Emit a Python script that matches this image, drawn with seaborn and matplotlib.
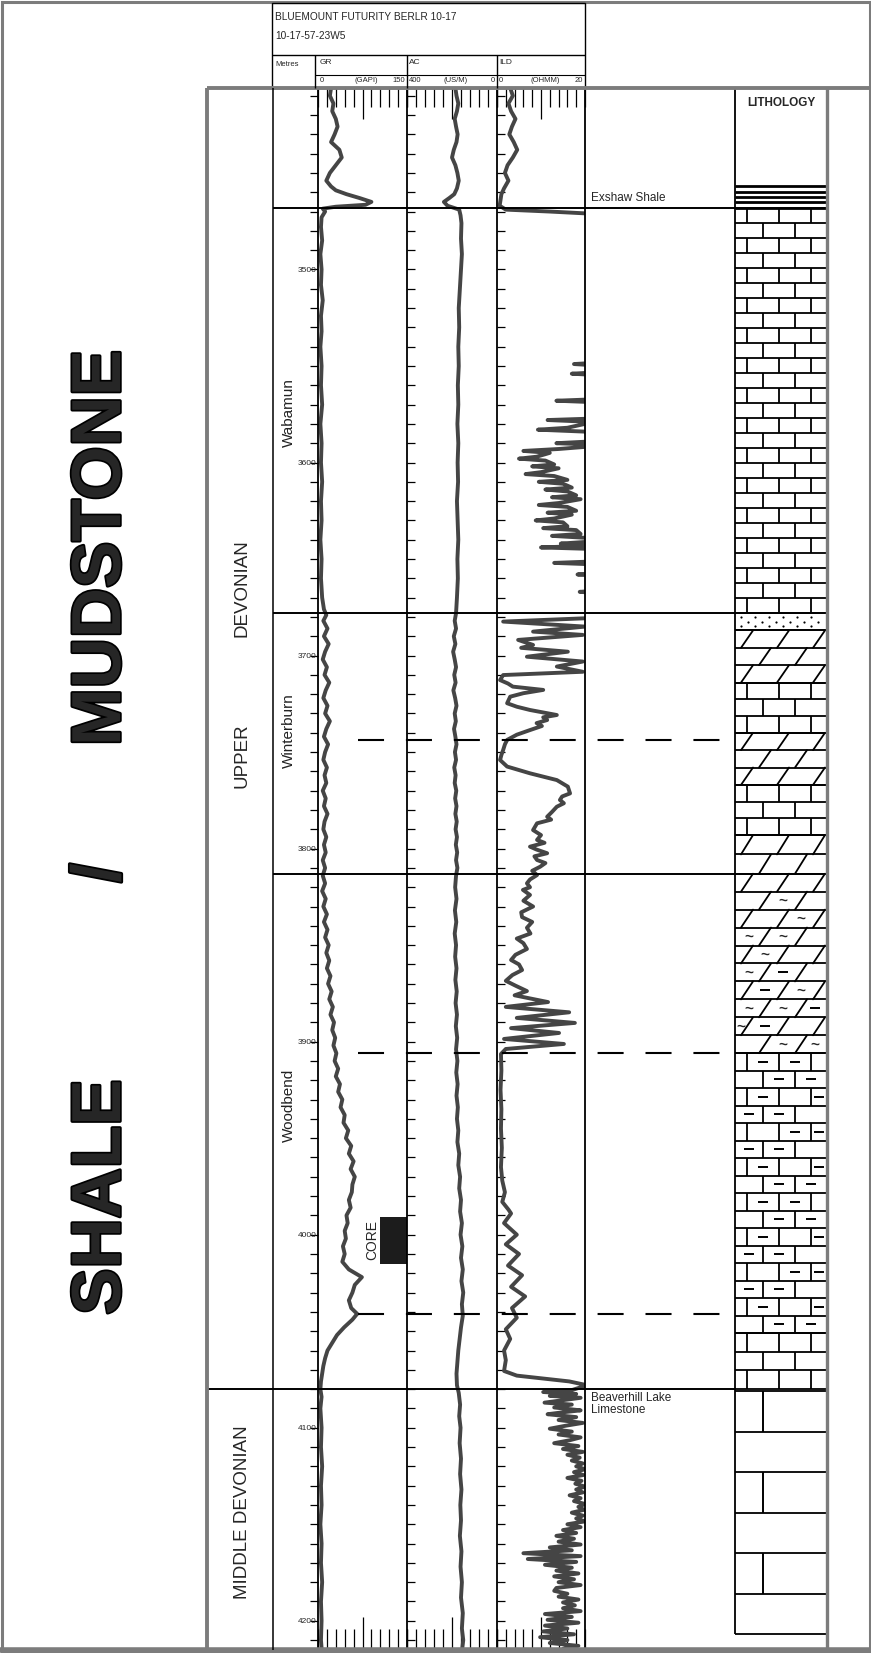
import numpy as np
import pandas as pd
import seaborn as sns
import matplotlib.pyplot as plt
from matplotlib.patches import Rectangle
from matplotlib.ticker import MultipleLocator, FixedLocator, FormatStrFormatter
from matplotlib import patheffects

sns.set_style("white")
plt.rcParams["font.family"] = ["Liberation Sans", "DejaVu Sans"]

# %% well data (depths in metres)
well_name = "BLUEMOUNT FUTURITY BERLR 10-17"
well_loc = "10-17-57-23W5"

formation_names = ["Wabamun", "Winterburn", "Woodbend"]
formation_mid = [3574, 3739, 3933]
formation_tops = [3468, 3678, 3813, 4080]  # Wabamun, Winterburn, Woodbend, Beaverhill Lake
marker_depths = [3744, 3906, 4041]
core_top, core_base = 3991, 4015

gr_depth = [3406, 3410, 3414, 3418, 3422, 3426, 3430, 3434, 3438, 3442, 3446, 3450, 3454, 3457, 3459,
            3461, 3463, 3465, 3466.5, 3467.5, 3468.5,
            3470, 3473, 3478, 3485, 3492, 3500, 3508, 3516, 3524, 3532, 3540, 3550, 3560, 3570, 3580,
            3590, 3600, 3610, 3620, 3630, 3640, 3650, 3660, 3670, 3676,
            3679, 3682, 3686, 3690, 3694, 3698, 3702, 3706, 3710, 3714, 3718, 3722, 3726, 3730, 3734,
            3738, 3742, 3746, 3750, 3754, 3758, 3762, 3766, 3770, 3774, 3778, 3782, 3786, 3790, 3794,
            3798, 3802, 3806, 3810,
            3814, 3818, 3822, 3826, 3830, 3834, 3838, 3842, 3846, 3850, 3854, 3858, 3862, 3866, 3870,
            3874, 3878, 3882, 3886, 3890, 3894, 3898, 3902, 3906, 3910, 3914, 3918, 3922, 3926, 3930,
            3934, 3938, 3942, 3946, 3950, 3954, 3958, 3962, 3966, 3970, 3974, 3978, 3982, 3986, 3990,
            3994, 3998, 4002, 4006, 4010, 4014, 4018, 4022, 4026, 4030, 4034, 4038, 4041, 4044, 4048,
            4052, 4056, 4060, 4064, 4068, 4072, 4076, 4080,
            4084, 4090, 4100, 4110, 4120, 4130, 4140, 4150, 4160, 4170, 4180, 4190, 4200, 4210, 4214]
gr_api = [22, 20, 26, 24, 30, 33, 28, 22, 36, 40, 30, 20, 14, 22, 30,
          48, 70, 90, 80, 30, 8,
          12, 6, 5, 7, 4, 6, 5, 8, 5, 6, 4, 6, 5, 7, 4,
          6, 5, 7, 5, 6, 4, 6, 5, 7, 10,
          14, 9, 16, 10, 18, 12, 8, 15, 11, 19, 13, 9, 16, 12, 20,
          14, 10, 17, 12, 9, 15, 11, 14, 8, 13, 10, 16, 11, 9, 14,
          10, 13, 8, 12,
          8, 12, 7, 13, 9, 15, 10, 16, 12, 18, 14, 19, 15, 21, 17,
          23, 19, 25, 21, 27, 24, 29, 26, 31, 28, 34, 30, 37, 34, 41,
          38, 45, 43, 51, 47, 56, 52, 60, 55, 62, 58, 57, 52, 55, 48,
          50, 45, 47, 42, 45, 41, 52, 74, 62, 58, 52, 56, 66, 58, 44,
          32, 24, 16, 12, 9, 7, 5, 4,
          6, 4, 6, 5, 7, 5, 6, 4, 6, 5, 7, 5, 6, 5, 6]

ac_depth = [3406, 3410, 3414, 3418, 3422, 3426, 3430, 3434, 3438, 3442, 3446, 3450, 3454, 3458, 3461,
            3463, 3465, 3467, 3469,
            3472, 3476, 3484, 3492, 3500, 3510, 3520, 3530, 3540, 3550, 3560, 3570, 3580, 3590, 3600,
            3610, 3620, 3630, 3640, 3650, 3660, 3670, 3678,
            3682, 3686, 3690, 3694, 3698, 3702, 3706, 3710, 3714, 3718, 3722, 3726, 3730, 3734, 3738,
            3742, 3746, 3750, 3754, 3758, 3762, 3766, 3770, 3774, 3778, 3782, 3786, 3790, 3794, 3798,
            3802, 3806, 3810,
            3814, 3820, 3826, 3832, 3838, 3844, 3850, 3856, 3862, 3868, 3874, 3880, 3886, 3892, 3898,
            3904, 3910, 3916, 3922, 3928, 3934, 3940, 3946, 3952, 3958, 3964, 3970, 3976, 3982, 3988,
            3994, 4000, 4006, 4012, 4018, 4024, 4030, 4036, 4042, 4048, 4054, 4060, 4066, 4072, 4078,
            4082, 4088, 4094, 4100, 4108, 4116, 4124, 4132, 4140, 4148, 4156, 4164, 4172, 4180, 4188,
            4196, 4204, 4210, 4214]
ac_usm = [185, 180, 172, 178, 188, 182, 175, 180, 192, 200, 185, 176, 170, 178, 190,
          212, 236, 220, 168,
          162, 158, 160, 156, 160, 165, 170, 168, 172, 170, 174, 172, 176, 172, 175,
          173, 178, 175, 172, 176, 174, 178, 182,
          188, 182, 192, 185, 195, 188, 182, 190, 184, 194, 186, 180, 188, 183, 191,
          185, 180, 187, 182, 190, 184, 188, 181, 186, 180, 185, 179, 184, 178, 183,
          177, 182, 176,
          182, 186, 180, 187, 181, 188, 182, 186, 180, 185, 179, 184, 178, 183, 177,
          182, 176, 181, 175, 180, 174, 178, 172, 176, 168, 172, 164, 168, 160, 164,
          156, 162, 154, 160, 152, 158, 150, 156, 152, 160, 166, 172, 176, 180, 178,
          170, 164, 168, 162, 166, 160, 164, 158, 163, 160, 165, 158, 162, 156, 160,
          152, 156, 150, 154]

ild_depth = [3406, 3410, 3414, 3418, 3422, 3426, 3430, 3434, 3438, 3442, 3446, 3450, 3454, 3458, 3461,
             3464, 3467, 3469, 3470, 3471, 3472,
             3548, 3549, 3550, 3553, 3554, 3555, 3567, 3568, 3569, 3577, 3578, 3579, 3582, 3583,
             3584, 3589, 3590, 3591, 3593, 3594, 3595, 3597, 3598, 3599, 3601, 3602, 3603, 3605,
             3606, 3607, 3609, 3610, 3611, 3613, 3614, 3615, 3617, 3618, 3619, 3621, 3622, 3623,
             3625, 3626, 3627, 3629, 3630, 3631, 3633, 3634, 3635, 3637, 3638, 3639, 3641, 3642,
             3643, 3644, 3645, 3651, 3652, 3653, 3657, 3658, 3659, 3666, 3667, 3668, 3677, 3679,
             3680.7, 3682.4, 3685, 3687.6, 3689.3, 3691.9, 3694.5, 3696, 3698, 3700.6, 3703.1, 3705.7,
             3708.4, 3710.1, 3712.7, 3714.5, 3716.1, 3717.8, 3719.5, 3721.3, 3724.7, 3726.5, 3728.2,
             3730.8, 3732, 3733.4, 3735, 3736.5, 3738.6, 3741, 3743.7, 3746, 3748.9, 3751.5, 3754.1,
             3757.5, 3761, 3764.5, 3767.9, 3771.4, 3773, 3774.8, 3776.5, 3778.3, 3781, 3783.5, 3785,
             3786.9, 3790.4, 3793, 3795.5, 3797, 3799, 3800.5, 3802.4, 3804, 3805.9, 3807.5, 3809.4,
             3811.5, 3813.7, 3816, 3818, 3820, 3821.4,
             3824, 3827, 3830, 3833, 3835.5, 3838, 3841, 3844, 3846.6, 3849, 3852, 3855, 3857.7,
             3860, 3862.9, 3865.5, 3868.5, 3871, 3873.8, 3876, 3879.5, 3882, 3884.8, 3887.7, 3890.3,
             3893, 3895.5, 3898.6, 3901.2, 3903.8, 3906.4, 3915, 3925, 3935, 3945, 3955, 3965, 3972,
             3978, 3983, 3987, 3989, 3994, 4000, 4005, 4010, 4016, 4021, 4027, 4032, 4038, 4043,
             4049, 4054, 4060, 4065, 4070.6, 4073, 4076, 4078,
             4080.5, 4081.5, 4082.5, 4083.5, 4084.5, 4086, 4087, 4088, 4089.5, 4091, 4092, 4093,
             4094.5, 4096, 4097.5, 4099, 4100.5, 4102, 4103.5, 4105, 4106.5, 4108, 4109.5, 4111,
             4112.5, 4114, 4115.5, 4117, 4118.5, 4120, 4121.5, 4123, 4124.5, 4126, 4127.5, 4129,
             4130.5, 4132, 4133.5, 4135, 4136.5, 4138, 4139.5, 4141, 4142.5, 4144, 4145.5, 4147,
             4148.5, 4150, 4151.5, 4153, 4154.5, 4156, 4157.5, 4159,
             4160.5, 4162, 4163.5, 4165, 4166.5, 4168, 4169.5, 4171, 4172.5, 4174, 4175.5, 4177,
             4178.5, 4180, 4181.5, 4183, 4184.5, 4186, 4187.5, 4189, 4190.5, 4192, 4193.5, 4195,
             4196.5, 4198, 4199.5, 4201, 4202.5, 4204, 4205.5, 4207, 4208.5, 4210, 4211.5, 4213,
             4214.5]
ild_ohmm = [3.0, 3.6, 2.6, 3.2, 4.2, 3.4, 2.8, 3.8, 4.6, 3.6, 2.4, 1.8, 2.6, 1.6, 1.0,
            0.8, 0.6, 2.0, 12, 20.5, 25,
            25, 17.5, 25, 25, 17.0, 25, 25, 13.5, 25, 25, 11.5, 22, 16, 9.3,
            20, 22, 13.5, 25, 14, 6.0, 12, 9, 5.0, 11, 13, 8.0, 14, 10,
            6.5, 13, 16, 9.5, 15, 17, 11.0, 16, 18, 12.5, 19, 14, 9.5, 16,
            18, 11.5, 17, 13, 8.8, 15, 16, 10.5, 18, 19, 12.5, 20, 21, 14.5,
            22, 10.0, 25, 25, 13.0, 25, 25, 18.3, 25, 25, 18.8, 25, 25, 25,
            20, 1.4, 20, 8.2, 19.5, 4.8, 8.2, 5.5, 16.1, 6.8, 19.5, 13.6,
            19.5, 1.4, 0.7, 2.5, 3.6, 10.5, 6, 3.0, 2.3, 4.5, 7.5,
            13.6, 10.5, 11.4, 9, 10.2, 7.5, 4.5, 2.3, 1.8, 1.4, 1.0, 0.7,
            2.3, 7.5, 13.6, 16.1, 16.6, 14.8, 14.3, 15.2, 13.6, 12.5, 11.4, 12.3,
            9.1, 8.2, 10, 9.1, 10.8, 7.5, 9, 11.4, 8.5, 9.1, 11, 9.8,
            8, 9.1, 7.5, 6.8, 7.5, 5.9,
            7.5, 6.0, 8.2, 5.5, 5.7, 8, 6.8, 7.6, 4.5, 6, 6.8, 4.2, 3.2,
            5, 5.7, 3.5, 2.0, 4.2, 6.8, 4, 11.6, 2.0, 16.4, 4.5, 17.7,
            3.2, 14.1, 1.6, 15.2, 2.0, 0.9, 1.0, 0.8, 1.0, 0.9, 1.1, 0.9, 1.2,
            1.8, 1.2, 2.6, 3.2, 1.6, 4.5, 2.0, 5.0, 2.5, 5.7, 3.2, 6.4, 3.4, 4.5,
            2.0, 3.0, 1.6, 2.0, 1.6, 4.5, 16.4, 20.5,
            17, 10.5, 18, 12, 19, 14, 10.8, 17, 13, 19, 15, 11.5,
            18, 14, 19.5, 15.5, 12, 17, 14, 19, 16.5, 13, 18.5, 15,
            19.5, 16, 18.8, 17, 19.5, 18, 20, 17.5, 19.6, 16, 19.2, 17.8,
            20, 18, 19.5, 16.5, 19, 17.5, 20, 18.5, 19.8, 17, 19.5, 18,
            20, 16, 19, 15, 18, 13.5, 17.5, 14,
            19, 12, 17, 6.0, 19, 7.0, 18, 10.9, 17, 13.5, 18.5, 13,
            17.5, 14, 19, 13.5, 13, 16, 14, 18.5, 15, 17.7, 15, 19,
            10.9, 17, 11.5, 18.5, 10.9, 16, 10.5, 17.5, 9.8, 16, 12, 18.5,
            15]

lith_kind = ["shale", "limestone", "sandstone", "dolomite", "limestone", "dolomite", "limestone",
             "dolomite", "nodular", "argillaceous", "limestone", "massive"]
lith_top = [3457, 3468, 3678, 3687, 3714, 3740, 3767, 3793, 3813, 3906, 4051, 4081]
lith_base = [3468, 3678, 3687, 3714, 3740, 3767, 3793, 3813, 3906, 4051, 4080, 4207]
lith_rows = [4, 27, 1, 3, 3, 3, 3, 2, 10, 16, 3, 6]

nodular_marks = ["   ", " ~ ", "  ~", "~~ ", " ~ ", "~- ", " -~", "~~-", "~- ", " ~~"]
argil_marks = ["-- ", " --", "- -", "-- ", " --", "--", "- -", " --"]

# %% layout (pixels)
W, H = 871, 1653
TOP, BOT = 88, 1648
D_TOP, D_BOT = 3406.0, 4214.1
CURVE = "#454545"
FRAME = "#7c7c7c"
LX0, LX1 = 735, 827

fig = plt.figure(figsize=(W / 100, H / 100), dpi=100)


def place(x0, y0, x1, y1):
    return fig.add_axes([x0 / W, 1 - y1 / H, (x1 - x0) / W, (y1 - y0) / H])


# %% log tracks
track_specs = [
    ("GR", 318, 407, (0, 150), gr_depth, gr_api),
    ("AC", 407, 497, (400, 0), ac_depth, ac_usm),
    ("ILD", 497, 585, (0, 20), ild_depth, ild_ohmm),
]
axes = {}
for name, x0, x1, lims, dep, val in track_specs:
    ax = place(x0, TOP, x1, BOT)
    ax.patch.set_alpha(0)
    df = pd.DataFrame({"depth": dep, "value": val})
    sns.lineplot(data=df, x="value", y="depth", orient="y", sort=False, estimator=None,
                 color=CURVE, lw=2.8, legend=False, ax=ax)
    ax.set_xlim(*lims)
    ax.set_ylim(D_BOT, D_TOP)
    ax.set_xlabel("")
    ax.set_ylabel("")
    lo, hi = lims
    step = (hi - lo) / 10
    ax.xaxis.set_major_locator(FixedLocator([lo + i * step for i in range(11) if i != 5]))
    ax.xaxis.set_minor_locator(FixedLocator([lo + 5 * step]))
    ax.tick_params(axis="x", which="both", direction="in", top=True, bottom=True,
                   labelbottom=False, labeltop=False, width=0.9, color="k")
    ax.tick_params(axis="x", which="major", length=14)
    ax.tick_params(axis="x", which="minor", length=22)
    ax.yaxis.set_major_locator(MultipleLocator(100))
    ax.yaxis.set_minor_locator(MultipleLocator(10))
    ax.yaxis.set_major_formatter(FormatStrFormatter("%d"))
    ax.tick_params(axis="y", which="both", length=6, width=0.9, color="k", left=True, right=False,
                   direction="out" if name == "GR" else "in", labelleft=(name == "GR"),
                   labelsize=6, pad=-5)
    for s in ("top", "bottom", "right"):
        ax.spines[s].set_visible(False)
    ax.spines["left"].set_linewidth(1.3)
    ax.spines["left"].set_color("k")
    if name == "ILD":
        ax.spines["right"].set_visible(True)
        ax.spines["right"].set_linewidth(1.3)
        ax.spines["right"].set_color("k")
    axes[name] = ax

gr_ax = axes["GR"]
gr_ax.fill_betweenx([core_top, core_base], 104, 150, color="#1c1c1c", lw=0)
gr_ax.text(91, (core_top + core_base) / 2, "CORE", rotation=90, ha="center", va="center", fontsize=10)

# %% depth overlay: tops, markers, lithology, names
ov = place(0, TOP, W, BOT)
ov.set_xlim(0, W)
ov.set_ylim(D_BOT, D_TOP)
ov.axis("off")

for d in formation_tops[:3]:
    ov.hlines(d, 273, LX0, color="k", lw=1.4)
ov.hlines(formation_tops[3], 207, LX0, color="k", lw=1.4)
ov.hlines(marker_depths, 358, 722, colors="k", lw=1.5, linestyles=(0, (12.5, 10.5)))

for name, mid in zip(formation_names, formation_mid):
    ov.text(289, mid, name, rotation=90, ha="center", va="center", fontsize=11, color="#222222")

ov.text(242, 3768.6, "UPPER", rotation=90, ha="center", va="bottom", fontsize=13.5)
ov.text(242, 3690.4, "DEVONIAN", rotation=90, ha="center", va="bottom", fontsize=13.5)
ov.text(242, 4144, "MIDDLE DEVONIAN", rotation=90, ha="center", va="center", fontsize=13.5)

ov.text(591, 3466.2, "Exshaw Shale", ha="left", va="bottom", fontsize=8.5)
ov.text(591, 4081.5, "Beaverhill Lake\nLimestone", ha="left", va="top", fontsize=8.5,
        linespacing=1.0)

# lithology column
ov.vlines(LX0, D_TOP, lith_base[-1], color="k", lw=1.3)
for kind, t, b, n in zip(lith_kind, lith_top, lith_base, lith_rows):
    edges = np.linspace(t, b, n + 1)
    if kind == "shale":
        ov.hlines(edges, LX0, LX1, color="k", lw=2.0)
        continue
    ov.hlines(edges, LX0, LX1, color="k", lw=1.3)
    if kind == "sandstone":
        for j, dy in enumerate(np.linspace(t, b, 5)[1:-1]):
            xs = np.arange(LX0 + 6 + 7 * (j % 2), LX1 - 3, 14)
            ov.scatter(xs, np.full(len(xs), dy), s=2.5, color="k", lw=0)
        continue
    for i, (r0, r1) in enumerate(zip(edges[:-1], edges[1:])):
        rm = (r0 + r1) / 2
        if kind in ("limestone", "argillaceous"):
            xs = [12, 44, 76] if i % 2 == 0 else [28, 60]
            ov.vlines([LX0 + x for x in xs], r0, r1, color="k", lw=1.3)
            if kind == "argillaceous":
                cells = [28, 60, 84] if i % 2 == 0 else [14, 44, 76]
                for c, m in zip(cells, argil_marks[i % len(argil_marks)]):
                    if m == "-":
                        ov.hlines(rm, LX0 + c - 5, LX0 + c + 5, color="k", lw=1.4)
        elif kind in ("dolomite", "nodular"):
            xs = [12, 48, 84] if i % 2 == 0 else [30, 66]
            for x in xs:
                ov.plot([LX0 + x - 6, LX0 + x + 6], [r1, r0], color="k", lw=1.3)
            if kind == "nodular":
                cells = [6, 30, 66] if i % 2 == 0 else [14, 48, 80]
                for c, m in zip(cells, nodular_marks[i % len(nodular_marks)]):
                    if m == "~":
                        ov.text(LX0 + c, rm, "~", ha="center", va="center", fontsize=11,
                                fontweight="bold")
                    elif m == "-":
                        ov.hlines(rm, LX0 + c - 5, LX0 + c + 5, color="k", lw=1.4)
        elif kind == "massive":
            if i % 2 == 0:
                ov.vlines(LX0 + 28, r0, r1, color="k", lw=1.4)

# %% frame, header and big title (pixel coordinates)
px = fig.add_axes([0, 0, 1, 1])
px.set_xlim(0, W)
px.set_ylim(H, 0)
px.axis("off")

px.add_patch(Rectangle((1.5, 1.5), W - 3, H - 3, fill=False, ec=FRAME, lw=2.2))
px.hlines(H - 3, 0, W, color=FRAME, lw=4)
px.hlines(TOP, 207, W - 2, color=FRAME, lw=2.8)
px.vlines(207, TOP, H - 2, color=FRAME, lw=2.8)
px.vlines(LX1, TOP, H - 3, color=FRAME, lw=2.4)
px.vlines(273, TOP, H - 3, color="k", lw=1.1)

# header box
px.add_patch(Rectangle((272, 3), 585 - 272, TOP - 3, fill=False, ec="k", lw=1.0))
px.hlines(55, 272, 585, color="k", lw=1.0)
px.hlines(75, 315, 585, color="k", lw=0.8)
px.vlines([315, 407, 497], 55, TOP, color="k", lw=1.0)
px.text(275, 17, well_name, ha="left", va="center", fontsize=7.3)
px.text(275, 36, well_loc, ha="left", va="center", fontsize=7.3)
px.text(275, 64, "Metres", ha="left", va="center", fontsize=5.5)
for lab, x0, x1, lo, unit, hi in [("GR", 318, 407, "0", "(GAPI)", "150"),
                                  ("AC", 407, 497, "400", "(US/M)", "0"),
                                  ("ILD", 497, 585, "0", "(OHMM)", "20")]:
    px.text(x0 + 2, 63, lab, ha="left", va="center", fontsize=6)
    px.text(x0 + 2, 81, lo, ha="left", va="center", fontsize=5.5)
    px.text((x0 + x1) / 2 + 4, 81, unit, ha="center", va="center", fontsize=5.5)
    px.text(x1 - 2, 81, hi, ha="right", va="center", fontsize=5.5)

px.text((LX0 + LX1) / 2, 103, "LITHOLOGY", ha="center", va="center", fontsize=8.5,
        fontweight="bold")

heavy = [patheffects.withStroke(linewidth=2.5, foreground="black")]
px.text(102, 1197, "SHALE", rotation=90, ha="center", va="center", fontsize=50,
        fontweight="bold", path_effects=heavy)
px.text(102, 873, "/", rotation=90, ha="center", va="center", fontsize=50,
        fontweight="bold", path_effects=heavy)
px.text(102, 548, "MUDSTONE", rotation=90, ha="center", va="center", fontsize=50,
        fontweight="bold", path_effects=heavy)

fig.savefig("out.png", dpi=100)
